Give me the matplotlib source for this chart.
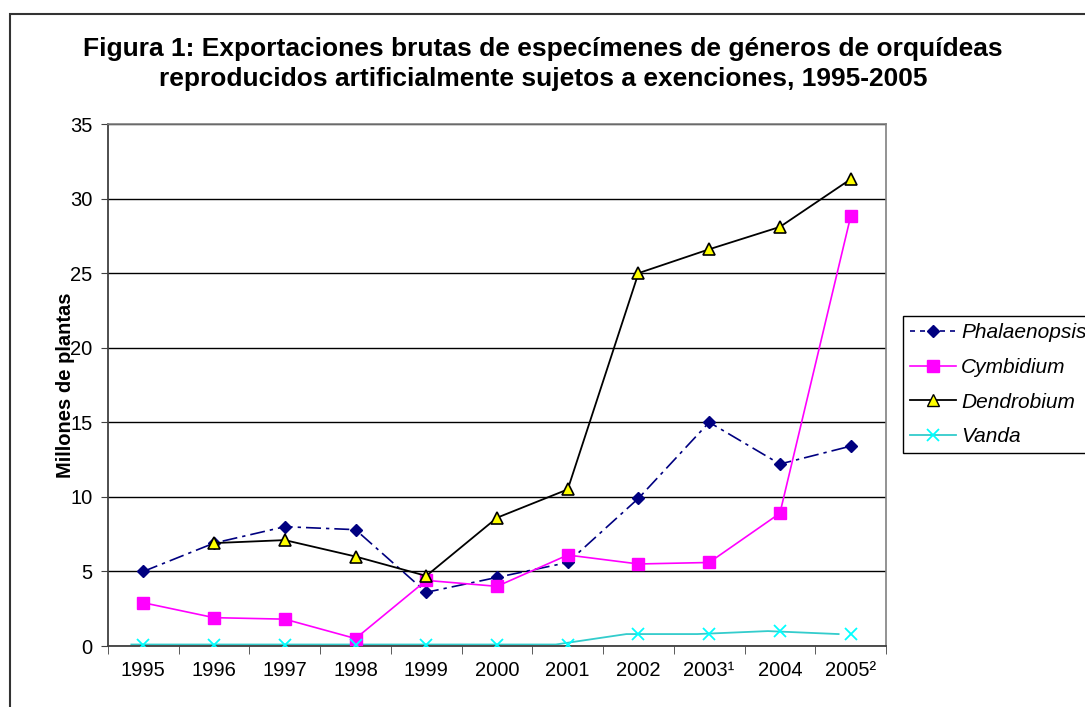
"""
Figura 1: exportaciones brutas de orquídeas reproducidas artificialmente, 1995-2005
"""

import numpy as np
import matplotlib
matplotlib.use("Agg")
import matplotlib.pyplot as plt
from matplotlib.patches import Rectangle
from matplotlib.lines import Line2D

plt.rcParams['font.family'] = ['Liberation Sans', 'DejaVu Sans']

# Data (millones de plantas)
years = ['1995', '1996', '1997', '1998', '1999', '2000', '2001', '2002',
         '2003¹', '2004', '2005²']
phalaenopsis = [5.0, 6.9, 8.0, 7.8, 3.6, 4.6, 5.6, 9.9, 15.0, 12.2, 13.4]
cymbidium = [2.9, 1.9, 1.8, 0.5, 4.4, 4.0, 6.1, 5.5, 5.6, 8.9, 28.8]
dendrobium = [np.nan, 6.9, 7.1, 6.0, 4.7, 8.6, 10.5, 25.0, 26.6, 28.1, 31.3]
vanda = [0.1, 0.1, 0.1, 0.1, 0.1, 0.1, 0.1, 0.8, 0.8, 1.0, 0.8]

W, H = 1085, 707
fig = plt.figure(figsize=(W / 100, H / 100), dpi=100)

# outer frame
fig.patches.append(Rectangle((10 / W, -0.1), 1.2, 1.1 - 14 / H,
                             transform=fig.transFigure, fill=False,
                             edgecolor='#333333', linewidth=1.5))

ax = fig.add_axes([108 / W, 61 / H, 778 / W, 522 / H])
x = np.arange(len(years))

ax.plot(x, phalaenopsis, color='#000080', linestyle=(0, (9, 3, 2, 3)), linewidth=1.2,
        marker='D', markersize=6.5, markerfacecolor='#000080', markeredgecolor='#000080',
        label='Phalaenopsis', zorder=3)
ax.plot(x, cymbidium, color='#FF00FF', linewidth=1.2,
        marker='s', markersize=8, markerfacecolor='#FF00FF', markeredgecolor='#FF00FF',
        label='Cymbidium', zorder=3)
ax.plot(x, dendrobium, color='black', linewidth=1.3,
        marker='^', markersize=9, markerfacecolor='#FFFF00', markeredgecolor='black',
        markeredgewidth=1.2, label='Dendrobium', zorder=4)
# Vanda: the line sits slightly left of its markers in the original
ax.plot(x - 0.17, vanda, color='#33CCCC', linewidth=1.3, zorder=2)
ax.plot(x, vanda, linestyle='none', marker='x', markersize=9, markeredgewidth=1.3,
        color='#00FFFF', zorder=3)

ax.set_xlim(-0.5, len(years) - 0.5)
ax.set_ylim(0, 35)
ax.set_yticks(np.arange(0, 36, 5))
ax.set_xticks(x)
ax.set_xticklabels(years)
ax.set_xticks(np.arange(-0.5, len(years), 1), minor=True)
ax.tick_params(axis='x', which='major', length=0, pad=11, labelsize=14.5)
ax.tick_params(axis='x', which='minor', length=6, direction='out', color='#404040')
ax.tick_params(axis='y', length=5, direction='out', color='#404040', labelsize=14.5, pad=6)

ax.yaxis.grid(True, color='black', linewidth=1)
ax.set_axisbelow(True)
for s in ['top', 'right']:
    ax.spines[s].set_color('#808080')
    ax.spines[s].set_linewidth(1.2)
for s in ['left', 'bottom']:
    ax.spines[s].set_color('#404040')
    ax.spines[s].set_linewidth(1.3)

ax.set_ylabel('Millones de plantas', fontsize=14.5, fontweight='bold')
ax.yaxis.set_label_coords(-33 / 778, 0.5)

fig.text(543 / W, 1 - 64 / H,
         'Figura 1: Exportaciones brutas de especímenes de géneros de orquídeas\n'
         'reproducidos artificialmente sujetos a exenciones, 1995-2005',
         ha='center', va='center', fontsize=19, fontweight='bold', linespacing=1.28)

handles = [
    Line2D([], [], color='#000080', linestyle=(0, (3, 3)), linewidth=1.2, marker='D',
           markersize=6.5, markerfacecolor='#000080'),
    Line2D([], [], color='#FF00FF', linewidth=1.2, marker='s', markersize=8),
    Line2D([], [], color='black', linewidth=1.3, marker='^', markersize=9,
           markerfacecolor='#FFFF00', markeredgecolor='black'),
    Line2D([], [], color='#33CCCC', linewidth=1.3, marker='x', markersize=9,
           markeredgewidth=1.3, markeredgecolor='#00FFFF'),
]
labels = ['Phalaenopsis', 'Cymbidium', 'Dendrobium', 'Vanda']
leg = fig.legend(handles, labels, loc='upper left', bbox_to_anchor=(903 / W, 1 - 316 / H),
                 frameon=True, fancybox=False, edgecolor='black', framealpha=1,
                 prop={'size': 15, 'style': 'italic'}, handlelength=2.2,
                 handletextpad=0.25, labelspacing=0.75, borderpad=0.35, borderaxespad=0)
leg.get_frame().set_linewidth(1.0)

fig.savefig('out.png', dpi=100)
